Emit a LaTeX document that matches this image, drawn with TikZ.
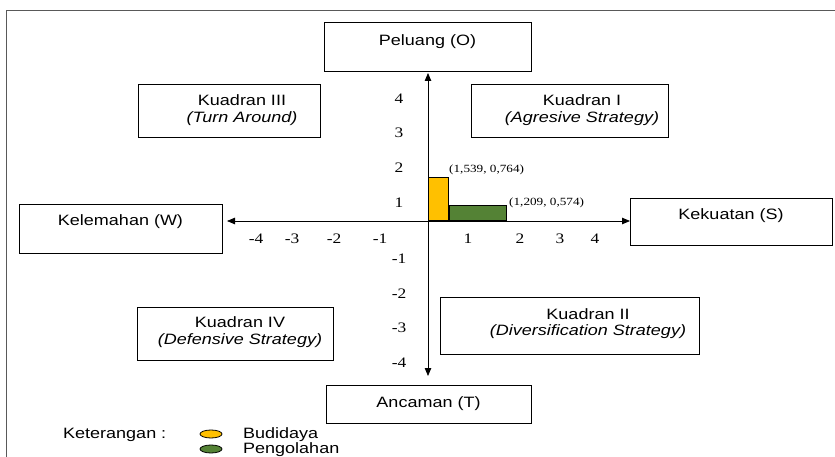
\documentclass[tikz,border=0pt]{standalone}
\usepackage{fontspec}
\setmainfont{Liberation Serif}[FakeStretch=1.2]
\newfontfamily\arialf{Liberation Sans}[FakeStretch=1.2]
\usetikzlibrary{arrows.meta,calc,shapes.geometric}
\definecolor{barY}{RGB}{255,192,0}
\definecolor{barG}{RGB}{84,130,53}
\tikzset{
  box/.style={draw=black, line width=1pt, inner sep=0pt},
  btxt/.style={font=\arialf\fontsize{15}{16.5}\selectfont, align=center, inner sep=0pt},
  tick/.style={font=\fontsize{14.5}{16}\selectfont, inner sep=0pt},
  coordlbl/.style={font=\fontsize{11}{12}\selectfont, inner sep=0pt},
  axis/.style={line width=0.8pt, {Triangle[length=8pt,width=6.5pt]}-{Triangle[length=8pt,width=6.5pt]}},
  bar/.style={draw=black, line width=0.5pt},
  frameline/.style={draw=black!65, line width=1pt},
  legell/.style={draw=black, line width=0.8pt, ellipse, minimum width=22pt, minimum height=8pt, inner sep=0pt}
}
\begin{document}
\begin{tikzpicture}[x=1pt,y=-1pt]
\useasboundingbox (0,0) rectangle (835,457);
% outer frame
\coordinate (f1) at (835,11);
\coordinate (f2) at (6,11);
\coordinate (f3) at (6,457);
\draw[frameline] (f1) -- (f2) -- (f3);
% boxes
\node[box, minimum width=207pt, minimum height=49pt] (O) at (427.5,47.5) {};
\node[btxt] (Ot) at ($(O.north)+(0,19)$) {Peluang (O)};
\node[box, minimum width=205pt, minimum height=38pt] (T) at (428.5,404) {};
\node[btxt] (Tt) at ($(T.north)+(0,19)$) {Ancaman (T)};
\node[box, minimum width=203pt, minimum height=48pt] (W) at (120.5,229) {};
\node[btxt] (Wt) at ($(W.north)+(0,17)$) {Kelemahan (W)};
\node[box, minimum width=202pt, minimum height=46pt] (S) at (731,222) {};
\node[btxt] (St) at ($(S.north)+(0,17)$) {Kekuatan (S)};
\node[box, minimum width=182pt, minimum height=53pt] (Q3) at (229,111.5) {};
\node[btxt] (Q3t) at (242,110) {Kuadran III\\\textit{(Turn Around)}};
\node[box, minimum width=197pt, minimum height=53pt] (Q1) at (569.5,111.5) {};
\node[btxt] (Q1t) at (582,110) {Kuadran I\\\textit{(Agresive Strategy)}};
\node[box, minimum width=196pt, minimum height=53pt] (Q4) at (235,333.5) {};
\node[btxt] (Q4t) at (240,332) {Kuadran IV\\\textit{(Defensive Strategy)}};
\node[box, minimum width=259pt, minimum height=57pt] (Q2) at (569.5,325.5) {};
\node[btxt] (Q2t) at (588,323.5) {Kuadran II\\\textit{(Diversification Strategy)}};
% axes
\coordinate (ytop) at (428,73);
\coordinate (ybot) at (428,376);
\coordinate (xl) at (227,221);
\coordinate (xr) at (630,221);
\coordinate (origin) at (428,221);
\draw[axis] (ybot) -- (ytop);
\draw[axis] (xl) -- (xr);
% bars
\node[bar, fill=barY, minimum width=20pt, minimum height=43pt, inner sep=0pt, anchor=south west] (by) at (origin) {};
\node[bar, fill=barG, minimum width=57pt, minimum height=15pt, inner sep=0pt, anchor=south west] (bg) at (by.south east) {};
\node[coordlbl, anchor=west] (ly) at (449,170) {(1,539, 0,764)};
\node[coordlbl, anchor=west] (lg) at (509,203) {(1,209, 0,574)};
% y ticks
\foreach \v/\yy in {4/99,3/133,2/168,1/203,-1/259,-2/294,-3/328,-4/363}{
  \node[tick] (yt\v) at (399,\yy) {\v};
}
% x ticks
\foreach \v/\xx in {-4/256,-3/292,-2/334,-1/380,1/468,2/520,3/560,4/595}{
  \node[tick] (xt\v) at (\xx,239) {\v};
}
% legend
\node[btxt, anchor=west] (ket) at (63,435) {Keterangan :};
\node[legell, fill=barY] (e1) at (211,434) {};
\node[legell, fill=barG] (e2) at (211,449) {};
\node[btxt, anchor=west] (lb1) at (243,434.5) {Budidaya};
\node[btxt, anchor=west] (lb2) at (243,450) {Pengolahan};
\end{tikzpicture}
\end{document}
